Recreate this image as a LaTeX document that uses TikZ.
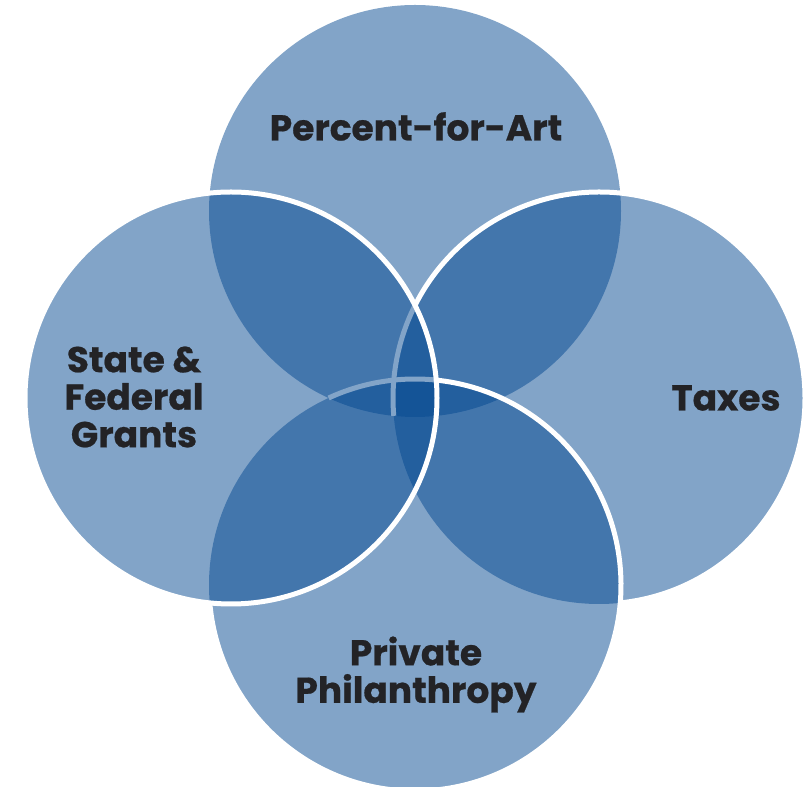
\documentclass[tikz,border=0pt]{standalone}
\usepackage{fontspec}
\setmainfont{Poppins}
\newfontfamily\lblfont{Poppins Bold}[FakeBold=0.6]
\begin{document}
\begin{tikzpicture}[x=1pt,y=1pt]
\definecolor{vblue}{RGB}{5,73,145}
\definecolor{vlight}{RGB}{130,164,200}
\definecolor{vtext}{RGB}{35,35,38}
\tikzset{
  venn/.style={fill=vblue, fill opacity=0.5},
  edgeline/.style={draw=white, line width=5pt},
  faintline/.style={draw=vlight, line width=5pt},
  lbl/.style={font=\lblfont\fontsize{36}{37.5}\selectfont, text=vtext, align=center, inner sep=0pt}
}
\useasboundingbox (0,0) rectangle (806,787);
\coordinate (cT) at (415,576);
\coordinate (cB) at (415,202);
\coordinate (cL) at (231,389);
\coordinate (cR) at (599,389);
\fill[venn] (cT) circle[radius=206];
\fill[venn] (cL) circle[radius=206];
\fill[venn] (cR) circle[radius=206];
\fill[venn] (cB) circle[radius=206];
% faint (covered) outline pieces
\draw[faintline] ([shift={(153.3:206)}]cR) arc[start angle=153.3, end angle=184.97, radius=206];
\draw[faintline] ([shift={(84.09:206)}]cB) arc[start angle=84.09, end angle=114.8, radius=206];
% white outlines
\draw[edgeline] ([shift={(-84.1:206)}]cR) arc[start angle=-84.1, end angle=153.3, radius=206];
\draw[edgeline] ([shift={(-175.03:206)}]cB) arc[start angle=-175.03, end angle=84.09, radius=206];
\draw[edgeline] (cL) circle[radius=206];
% labels
\node[lbl] (pfa) at (416,660.5) {Percent-for-Art};
\node[lbl] (sfg) at (134,390) {State \&\\Federal\\Grants};
\node[lbl] (tax) at (726,389) {Taxes};
\node[lbl] (pph) at (416,112.5) {Private\\Philanthropy};
\end{tikzpicture}
\end{document}
